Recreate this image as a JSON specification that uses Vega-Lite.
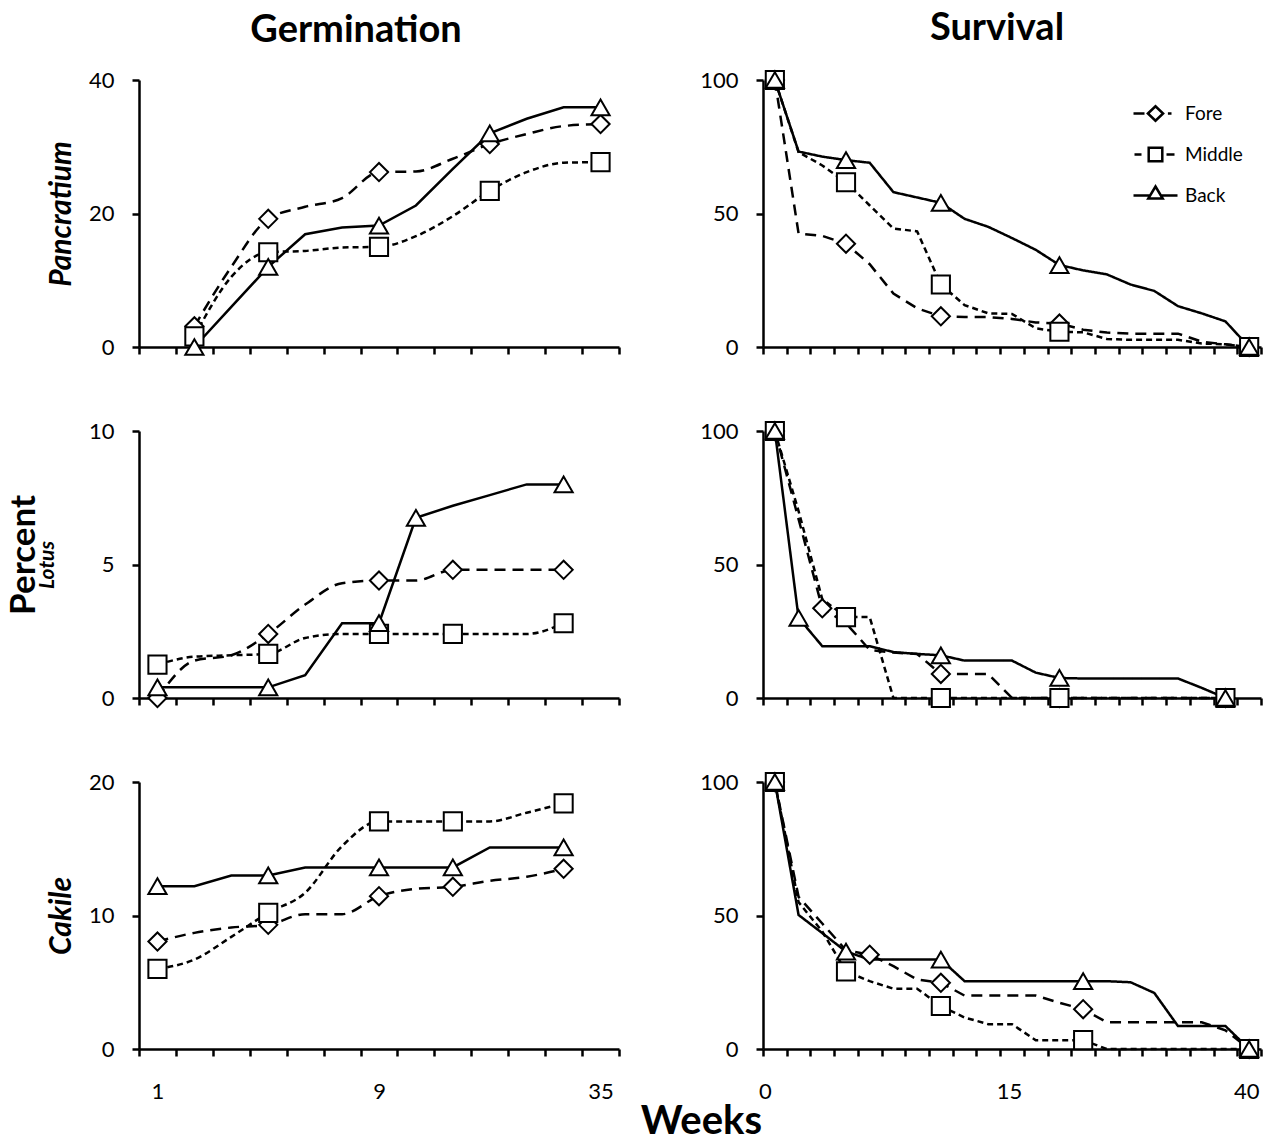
{
"$schema": "https://vega.github.io/schema/vega-lite/v6.json",
"padding": {"left": 7, "top": 9, "right": 0, "bottom": 0},
"config": {
  "view": {"stroke": null},
  "font": "Lato",
  "axis": {"grid": false, "domainColor": "black", "domainWidth": 2.5, "tickColor": "black", "tickWidth": 2.5, "tickSize": 7, "labelFont": "Lato", "labelFontSize": 22, "labelColor": "black", "labelPadding": 18, "titleColor": "black", "titleFont": "Lato", "labelOverlap": false, "labelFlush": false},
  "title": {"font": "Lato", "color": "black", "fontWeight": "bold"}
},
"title": {"text": "Percent", "orient": "left", "fontSize": 35, "fontWeight": "bold", "anchor": "middle", "offset": -6, "dx": 21},
"data": {"values": [
{"panel":"A","series":"Fore","x":1,"y":3.1,"marker":1},{"panel":"A","series":"Fore","x":2,"y":12,"marker":0},{"panel":"A","series":"Fore","x":3,"y":19.2,"marker":1},{"panel":"A","series":"Fore","x":4,"y":21,"marker":0},{"panel":"A","series":"Fore","x":5,"y":22.3,"marker":0},{"panel":"A","series":"Fore","x":6,"y":26.2,"marker":1},{"panel":"A","series":"Fore","x":7,"y":26.3,"marker":0},{"panel":"A","series":"Fore","x":8,"y":28.2,"marker":0},{"panel":"A","series":"Fore","x":9,"y":30.4,"marker":1},{"panel":"A","series":"Fore","x":10,"y":31.9,"marker":0},{"panel":"A","series":"Fore","x":11,"y":33.1,"marker":0},{"panel":"A","series":"Fore","x":12,"y":33.4,"marker":1},
{"panel":"A","series":"Middle","x":1,"y":1.6,"marker":1},{"panel":"A","series":"Middle","x":2,"y":10.5,"marker":0},{"panel":"A","series":"Middle","x":3,"y":14.2,"marker":1},{"panel":"A","series":"Middle","x":4,"y":14.4,"marker":0},{"panel":"A","series":"Middle","x":5,"y":14.9,"marker":0},{"panel":"A","series":"Middle","x":6,"y":15,"marker":1},{"panel":"A","series":"Middle","x":7,"y":16.6,"marker":0},{"panel":"A","series":"Middle","x":8,"y":19.6,"marker":0},{"panel":"A","series":"Middle","x":9,"y":23.4,"marker":1},{"panel":"A","series":"Middle","x":10,"y":26.2,"marker":0},{"panel":"A","series":"Middle","x":11,"y":27.6,"marker":0},{"panel":"A","series":"Middle","x":12,"y":27.7,"marker":1},
{"panel":"A","series":"Back","x":1,"y":0,"marker":1},{"panel":"A","series":"Back","x":2,"y":6,"marker":0},{"panel":"A","series":"Back","x":3,"y":12,"marker":1},{"panel":"A","series":"Back","x":4,"y":16.9,"marker":0},{"panel":"A","series":"Back","x":5,"y":17.9,"marker":0},{"panel":"A","series":"Back","x":6,"y":18.2,"marker":1},{"panel":"A","series":"Back","x":7,"y":21.2,"marker":0},{"panel":"A","series":"Back","x":8,"y":26.7,"marker":0},{"panel":"A","series":"Back","x":9,"y":32,"marker":1},{"panel":"A","series":"Back","x":10,"y":34.2,"marker":0},{"panel":"A","series":"Back","x":11,"y":35.9,"marker":0},{"panel":"A","series":"Back","x":12,"y":35.9,"marker":1},
{"panel":"B","series":"Fore","x":0,"y":100,"marker":1},{"panel":"B","series":"Fore","x":1,"y":42.5,"marker":0},{"panel":"B","series":"Fore","x":2,"y":41.6,"marker":0},{"panel":"B","series":"Fore","x":3,"y":38.7,"marker":1},{"panel":"B","series":"Fore","x":4,"y":31,"marker":0},{"panel":"B","series":"Fore","x":5,"y":20,"marker":0},{"panel":"B","series":"Fore","x":6,"y":14.5,"marker":0},{"panel":"B","series":"Fore","x":7,"y":11.5,"marker":1},{"panel":"B","series":"Fore","x":8,"y":11.2,"marker":0},{"panel":"B","series":"Fore","x":9,"y":11.2,"marker":0},{"panel":"B","series":"Fore","x":10,"y":10.5,"marker":0},{"panel":"B","series":"Fore","x":11,"y":9.2,"marker":0},{"panel":"B","series":"Fore","x":12,"y":8.8,"marker":1},{"panel":"B","series":"Fore","x":13,"y":6.5,"marker":0},{"panel":"B","series":"Fore","x":14,"y":5.4,"marker":0},{"panel":"B","series":"Fore","x":15,"y":5,"marker":0},{"panel":"B","series":"Fore","x":16,"y":5,"marker":0},{"panel":"B","series":"Fore","x":17,"y":5,"marker":0},{"panel":"B","series":"Fore","x":18,"y":2,"marker":0},{"panel":"B","series":"Fore","x":19,"y":1,"marker":0},{"panel":"B","series":"Fore","x":20,"y":0,"marker":1},
{"panel":"B","series":"Middle","x":0,"y":100,"marker":1},{"panel":"B","series":"Middle","x":1,"y":73,"marker":0},{"panel":"B","series":"Middle","x":2,"y":68,"marker":0},{"panel":"B","series":"Middle","x":3,"y":61.7,"marker":1},{"panel":"B","series":"Middle","x":4,"y":53,"marker":0},{"panel":"B","series":"Middle","x":5,"y":44.4,"marker":0},{"panel":"B","series":"Middle","x":6,"y":43.3,"marker":0},{"panel":"B","series":"Middle","x":7,"y":23.4,"marker":1},{"panel":"B","series":"Middle","x":8,"y":15.7,"marker":0},{"panel":"B","series":"Middle","x":9,"y":12.6,"marker":0},{"panel":"B","series":"Middle","x":10,"y":12.4,"marker":0},{"panel":"B","series":"Middle","x":11,"y":7,"marker":0},{"panel":"B","series":"Middle","x":12,"y":5.7,"marker":1},{"panel":"B","series":"Middle","x":13,"y":5.5,"marker":0},{"panel":"B","series":"Middle","x":14,"y":3,"marker":0},{"panel":"B","series":"Middle","x":15,"y":2.7,"marker":0},{"panel":"B","series":"Middle","x":16,"y":2.7,"marker":0},{"panel":"B","series":"Middle","x":17,"y":2.7,"marker":0},{"panel":"B","series":"Middle","x":18,"y":1.3,"marker":0},{"panel":"B","series":"Middle","x":19,"y":1,"marker":0},{"panel":"B","series":"Middle","x":20,"y":0,"marker":1},
{"panel":"B","series":"Back","x":0,"y":100,"marker":1},{"panel":"B","series":"Back","x":1,"y":73.2,"marker":0},{"panel":"B","series":"Back","x":2,"y":71.3,"marker":0},{"panel":"B","series":"Back","x":3,"y":70,"marker":1},{"panel":"B","series":"Back","x":4,"y":69,"marker":0},{"panel":"B","series":"Back","x":5,"y":58,"marker":0},{"panel":"B","series":"Back","x":6,"y":56,"marker":0},{"panel":"B","series":"Back","x":7,"y":54,"marker":1},{"panel":"B","series":"Back","x":8,"y":48,"marker":0},{"panel":"B","series":"Back","x":9,"y":45,"marker":0},{"panel":"B","series":"Back","x":10,"y":40.8,"marker":0},{"panel":"B","series":"Back","x":11,"y":36.4,"marker":0},{"panel":"B","series":"Back","x":12,"y":30.7,"marker":1},{"panel":"B","series":"Back","x":13,"y":28.7,"marker":0},{"panel":"B","series":"Back","x":14,"y":27.2,"marker":0},{"panel":"B","series":"Back","x":15,"y":23.4,"marker":0},{"panel":"B","series":"Back","x":16,"y":21,"marker":0},{"panel":"B","series":"Back","x":17,"y":15.3,"marker":0},{"panel":"B","series":"Back","x":18,"y":12.6,"marker":0},{"panel":"B","series":"Back","x":19,"y":9.6,"marker":0},{"panel":"B","series":"Back","x":20,"y":0,"marker":1},
{"panel":"C","series":"Fore","x":0,"y":0,"marker":1},{"panel":"C","series":"Fore","x":1,"y":1.4,"marker":0},{"panel":"C","series":"Fore","x":2,"y":1.6,"marker":0},{"panel":"C","series":"Fore","x":3,"y":2.4,"marker":1},{"panel":"C","series":"Fore","x":4,"y":3.5,"marker":0},{"panel":"C","series":"Fore","x":5,"y":4.3,"marker":0},{"panel":"C","series":"Fore","x":6,"y":4.4,"marker":1},{"panel":"C","series":"Fore","x":7,"y":4.4,"marker":0},{"panel":"C","series":"Fore","x":8,"y":4.8,"marker":1},{"panel":"C","series":"Fore","x":9,"y":4.8,"marker":0},{"panel":"C","series":"Fore","x":10,"y":4.8,"marker":0},{"panel":"C","series":"Fore","x":11,"y":4.8,"marker":1},
{"panel":"C","series":"Middle","x":0,"y":1.25,"marker":1},{"panel":"C","series":"Middle","x":1,"y":1.55,"marker":0},{"panel":"C","series":"Middle","x":2,"y":1.6,"marker":0},{"panel":"C","series":"Middle","x":3,"y":1.65,"marker":1},{"panel":"C","series":"Middle","x":4,"y":2.25,"marker":0},{"panel":"C","series":"Middle","x":5,"y":2.4,"marker":0},{"panel":"C","series":"Middle","x":6,"y":2.4,"marker":1},{"panel":"C","series":"Middle","x":7,"y":2.4,"marker":0},{"panel":"C","series":"Middle","x":8,"y":2.4,"marker":1},{"panel":"C","series":"Middle","x":9,"y":2.4,"marker":0},{"panel":"C","series":"Middle","x":10,"y":2.4,"marker":0},{"panel":"C","series":"Middle","x":11,"y":2.8,"marker":1},
{"panel":"C","series":"Back","x":0,"y":0.4,"marker":1},{"panel":"C","series":"Back","x":1,"y":0.4,"marker":0},{"panel":"C","series":"Back","x":2,"y":0.4,"marker":0},{"panel":"C","series":"Back","x":3,"y":0.4,"marker":1},{"panel":"C","series":"Back","x":4,"y":0.85,"marker":0},{"panel":"C","series":"Back","x":5,"y":2.8,"marker":0},{"panel":"C","series":"Back","x":6,"y":2.8,"marker":1},{"panel":"C","series":"Back","x":7,"y":6.75,"marker":1},{"panel":"C","series":"Back","x":8,"y":7.2,"marker":0},{"panel":"C","series":"Back","x":9,"y":7.6,"marker":0},{"panel":"C","series":"Back","x":10,"y":8,"marker":0},{"panel":"C","series":"Back","x":11,"y":8,"marker":1},
{"panel":"D","series":"Fore","x":0,"y":100,"marker":1},{"panel":"D","series":"Fore","x":1,"y":67,"marker":0},{"panel":"D","series":"Fore","x":2,"y":33.6,"marker":1},{"panel":"D","series":"Fore","x":3,"y":28,"marker":0},{"panel":"D","series":"Fore","x":4,"y":18,"marker":0},{"panel":"D","series":"Fore","x":5,"y":17,"marker":0},{"panel":"D","series":"Fore","x":6,"y":16.5,"marker":0},{"panel":"D","series":"Fore","x":7,"y":9,"marker":1},{"panel":"D","series":"Fore","x":8,"y":9,"marker":0},{"panel":"D","series":"Fore","x":9,"y":9,"marker":0},{"panel":"D","series":"Fore","x":10,"y":0,"marker":0},{"panel":"D","series":"Fore","x":11,"y":0,"marker":0},{"panel":"D","series":"Fore","x":12,"y":0,"marker":1},{"panel":"D","series":"Fore","x":13,"y":0,"marker":0},{"panel":"D","series":"Fore","x":14,"y":0,"marker":0},{"panel":"D","series":"Fore","x":15,"y":0,"marker":0},{"panel":"D","series":"Fore","x":16,"y":0,"marker":0},{"panel":"D","series":"Fore","x":17,"y":0,"marker":0},{"panel":"D","series":"Fore","x":18,"y":0,"marker":0},{"panel":"D","series":"Fore","x":19,"y":0,"marker":1},
{"panel":"D","series":"Middle","x":0,"y":100,"marker":1},{"panel":"D","series":"Middle","x":1,"y":70,"marker":0},{"panel":"D","series":"Middle","x":2,"y":37,"marker":0},{"panel":"D","series":"Middle","x":3,"y":30.3,"marker":1},{"panel":"D","series":"Middle","x":4,"y":30.3,"marker":0},{"panel":"D","series":"Middle","x":5,"y":0,"marker":0},{"panel":"D","series":"Middle","x":6,"y":0,"marker":0},{"panel":"D","series":"Middle","x":7,"y":0,"marker":1},{"panel":"D","series":"Middle","x":8,"y":0,"marker":0},{"panel":"D","series":"Middle","x":9,"y":0,"marker":0},{"panel":"D","series":"Middle","x":10,"y":0,"marker":0},{"panel":"D","series":"Middle","x":11,"y":0,"marker":0},{"panel":"D","series":"Middle","x":12,"y":0,"marker":1},{"panel":"D","series":"Middle","x":13,"y":0,"marker":0},{"panel":"D","series":"Middle","x":14,"y":0,"marker":0},{"panel":"D","series":"Middle","x":15,"y":0,"marker":0},{"panel":"D","series":"Middle","x":16,"y":0,"marker":0},{"panel":"D","series":"Middle","x":17,"y":0,"marker":0},{"panel":"D","series":"Middle","x":18,"y":0,"marker":0},{"panel":"D","series":"Middle","x":19,"y":0,"marker":1},
{"panel":"D","series":"Back","x":0,"y":100,"marker":1},{"panel":"D","series":"Back","x":1,"y":30,"marker":1},{"panel":"D","series":"Back","x":2,"y":19.4,"marker":0},{"panel":"D","series":"Back","x":3,"y":19.4,"marker":0},{"panel":"D","series":"Back","x":4,"y":19.4,"marker":0},{"panel":"D","series":"Back","x":5,"y":17.2,"marker":0},{"panel":"D","series":"Back","x":6,"y":16.5,"marker":0},{"panel":"D","series":"Back","x":7,"y":16,"marker":1},{"panel":"D","series":"Back","x":8,"y":14,"marker":0},{"panel":"D","series":"Back","x":9,"y":14,"marker":0},{"panel":"D","series":"Back","x":10,"y":14,"marker":0},{"panel":"D","series":"Back","x":11,"y":9.5,"marker":0},{"panel":"D","series":"Back","x":12,"y":7.5,"marker":1},{"panel":"D","series":"Back","x":13,"y":7.3,"marker":0},{"panel":"D","series":"Back","x":14,"y":7.3,"marker":0},{"panel":"D","series":"Back","x":15,"y":7.3,"marker":0},{"panel":"D","series":"Back","x":16,"y":7.3,"marker":0},{"panel":"D","series":"Back","x":17,"y":7.3,"marker":0},{"panel":"D","series":"Back","x":18,"y":3.8,"marker":0},{"panel":"D","series":"Back","x":19,"y":0,"marker":1},
{"panel":"E","series":"Fore","x":0,"y":8.05,"marker":1},{"panel":"E","series":"Fore","x":1,"y":8.7,"marker":0},{"panel":"E","series":"Fore","x":2,"y":9.1,"marker":0},{"panel":"E","series":"Fore","x":3,"y":9.3,"marker":1},{"panel":"E","series":"Fore","x":4,"y":10.1,"marker":0},{"panel":"E","series":"Fore","x":5,"y":10.1,"marker":0},{"panel":"E","series":"Fore","x":6,"y":11.45,"marker":1},{"panel":"E","series":"Fore","x":7,"y":12,"marker":0},{"panel":"E","series":"Fore","x":8,"y":12.15,"marker":1},{"panel":"E","series":"Fore","x":9,"y":12.6,"marker":0},{"panel":"E","series":"Fore","x":10,"y":12.9,"marker":0},{"panel":"E","series":"Fore","x":11,"y":13.5,"marker":1},
{"panel":"E","series":"Middle","x":0,"y":6,"marker":1},{"panel":"E","series":"Middle","x":1,"y":6.7,"marker":0},{"panel":"E","series":"Middle","x":2,"y":8.4,"marker":0},{"panel":"E","series":"Middle","x":3,"y":10.2,"marker":1},{"panel":"E","series":"Middle","x":4,"y":11.7,"marker":0},{"panel":"E","series":"Middle","x":5,"y":15.2,"marker":0},{"panel":"E","series":"Middle","x":6,"y":17.05,"marker":1},{"panel":"E","series":"Middle","x":7,"y":17.05,"marker":0},{"panel":"E","series":"Middle","x":8,"y":17.05,"marker":1},{"panel":"E","series":"Middle","x":9,"y":17.05,"marker":0},{"panel":"E","series":"Middle","x":10,"y":17.7,"marker":0},{"panel":"E","series":"Middle","x":11,"y":18.4,"marker":1},
{"panel":"E","series":"Back","x":0,"y":12.2,"marker":1},{"panel":"E","series":"Back","x":1,"y":12.2,"marker":0},{"panel":"E","series":"Back","x":2,"y":13,"marker":0},{"panel":"E","series":"Back","x":3,"y":13,"marker":1},{"panel":"E","series":"Back","x":4,"y":13.6,"marker":0},{"panel":"E","series":"Back","x":5,"y":13.6,"marker":0},{"panel":"E","series":"Back","x":6,"y":13.6,"marker":1},{"panel":"E","series":"Back","x":7,"y":13.6,"marker":0},{"panel":"E","series":"Back","x":8,"y":13.6,"marker":1},{"panel":"E","series":"Back","x":9,"y":15.1,"marker":0},{"panel":"E","series":"Back","x":10,"y":15.1,"marker":0},{"panel":"E","series":"Back","x":11,"y":15.1,"marker":1},
{"panel":"F","series":"Fore","x":0,"y":100,"marker":1},{"panel":"F","series":"Fore","x":1,"y":57,"marker":0},{"panel":"F","series":"Fore","x":2,"y":47,"marker":0},{"panel":"F","series":"Fore","x":3,"y":37,"marker":0},{"panel":"F","series":"Fore","x":4,"y":35.3,"marker":1},{"panel":"F","series":"Fore","x":5,"y":31,"marker":0},{"panel":"F","series":"Fore","x":6,"y":26,"marker":0},{"panel":"F","series":"Fore","x":7,"y":24.8,"marker":1},{"panel":"F","series":"Fore","x":8,"y":20,"marker":0},{"panel":"F","series":"Fore","x":9,"y":20,"marker":0},{"panel":"F","series":"Fore","x":10,"y":20,"marker":0},{"panel":"F","series":"Fore","x":11,"y":20,"marker":0},{"panel":"F","series":"Fore","x":12,"y":17.3,"marker":0},{"panel":"F","series":"Fore","x":13,"y":14.9,"marker":1},{"panel":"F","series":"Fore","x":14,"y":10,"marker":0},{"panel":"F","series":"Fore","x":15,"y":10,"marker":0},{"panel":"F","series":"Fore","x":16,"y":10,"marker":0},{"panel":"F","series":"Fore","x":17,"y":10,"marker":0},{"panel":"F","series":"Fore","x":18,"y":10,"marker":0},{"panel":"F","series":"Fore","x":19,"y":7,"marker":0},{"panel":"F","series":"Fore","x":20,"y":0,"marker":1},
{"panel":"F","series":"Middle","x":0,"y":100,"marker":1},{"panel":"F","series":"Middle","x":1,"y":55,"marker":0},{"panel":"F","series":"Middle","x":2,"y":44,"marker":0},{"panel":"F","series":"Middle","x":3,"y":29.1,"marker":1},{"panel":"F","series":"Middle","x":4,"y":25.4,"marker":0},{"panel":"F","series":"Middle","x":5,"y":22.6,"marker":0},{"panel":"F","series":"Middle","x":6,"y":22.6,"marker":0},{"panel":"F","series":"Middle","x":7,"y":16.1,"marker":1},{"panel":"F","series":"Middle","x":8,"y":11.8,"marker":0},{"panel":"F","series":"Middle","x":9,"y":9.3,"marker":0},{"panel":"F","series":"Middle","x":10,"y":9.3,"marker":0},{"panel":"F","series":"Middle","x":11,"y":3.3,"marker":0},{"panel":"F","series":"Middle","x":12,"y":3.3,"marker":0},{"panel":"F","series":"Middle","x":13,"y":3.3,"marker":1},{"panel":"F","series":"Middle","x":14,"y":0,"marker":0},{"panel":"F","series":"Middle","x":15,"y":0,"marker":0},{"panel":"F","series":"Middle","x":16,"y":0,"marker":0},{"panel":"F","series":"Middle","x":17,"y":0,"marker":0},{"panel":"F","series":"Middle","x":18,"y":0,"marker":0},{"panel":"F","series":"Middle","x":19,"y":0,"marker":0},{"panel":"F","series":"Middle","x":20,"y":0,"marker":1},
{"panel":"F","series":"Back","x":0,"y":100,"marker":1},{"panel":"F","series":"Back","x":1,"y":50.2,"marker":0},{"panel":"F","series":"Back","x":2,"y":43.4,"marker":0},{"panel":"F","series":"Back","x":3,"y":36.5,"marker":1},{"panel":"F","series":"Back","x":4,"y":33.5,"marker":0},{"panel":"F","series":"Back","x":5,"y":33.5,"marker":0},{"panel":"F","series":"Back","x":6,"y":33.5,"marker":0},{"panel":"F","series":"Back","x":7,"y":33.5,"marker":1},{"panel":"F","series":"Back","x":8,"y":25.4,"marker":0},{"panel":"F","series":"Back","x":9,"y":25.4,"marker":0},{"panel":"F","series":"Back","x":10,"y":25.4,"marker":0},{"panel":"F","series":"Back","x":11,"y":25.4,"marker":0},{"panel":"F","series":"Back","x":12,"y":25.4,"marker":0},{"panel":"F","series":"Back","x":13,"y":25.4,"marker":1},{"panel":"F","series":"Back","x":14,"y":25.4,"marker":0},{"panel":"F","series":"Back","x":15,"y":25,"marker":0},{"panel":"F","series":"Back","x":16,"y":21,"marker":0},{"panel":"F","series":"Back","x":17,"y":8.6,"marker":0},{"panel":"F","series":"Back","x":18,"y":8.6,"marker":0},{"panel":"F","series":"Back","x":19,"y":8.6,"marker":0},{"panel":"F","series":"Back","x":20,"y":0,"marker":1}
]},
"vconcat": [{
  "title": {"text": "Weeks", "orient": "bottom", "fontSize": 40, "fontWeight": "bold", "anchor": "middle", "offset": 0, "dx": 52},
  "columns": 2,
  "bounds": "flush",
  "align": "each",
  "spacing": {"row": 84, "column": 144},
  "resolve": {"scale": {"shape": "independent", "strokeDash": "independent"}, "legend": {"shape": "independent", "strokeDash": "independent"}},
  "concat": [
    {
      "width": 480, "height": 267,
      "transform": [{"filter": "datum.panel === 'A'"}],
      "title": {"text": "Germination", "fontSize": 38, "fontWeight": "bold", "anchor": "middle", "frame": "group", "dx": -23, "offset": 19},
      "encoding": {
        "x": {"field": "x", "type": "quantitative", "scale": {"domain": [-0.5, 12.5], "nice": false, "zero": false}, "axis": {"values": [-0.5,0.5,1.5,2.5,3.5,4.5,5.5,6.5,7.5,8.5,9.5,10.5,11.5,12.5], "labels": false, "title": null}},
        "y": {"field": "y", "type": "quantitative", "scale": {"domain": [0, 40], "nice": false}, "axis": {"values": [0, 20, 40], "title": "Pancratium", "titleFontSize": 30, "titleFontStyle": "italic", "titleFontWeight": "bold", "titlePadding": 12}}
      },
      "layer": [
        {"transform": [{"filter": "datum.series !== 'Back'"}], "mark": {"type": "line", "interpolate": "monotone", "color": "black", "strokeWidth": 2.5}, "encoding": {"strokeDash": {"field": "series", "type": "nominal", "scale": {"domain": ["Fore", "Middle", "Back"], "range": [[11, 7], [6, 4], [1, 0]]}, "legend": null}}},
        {"transform": [{"filter": "datum.series === 'Back'"}], "mark": {"type": "line", "color": "black", "strokeWidth": 2.5}, "encoding": {"detail": {"field": "series", "type": "nominal"}}},
        {"transform": [{"filter": "datum.marker === 1"}], "mark": {"type": "point", "filled": true, "fill": "white", "stroke": "black", "strokeWidth": 2, "opacity": 1, "size": 330}, "encoding": {"shape": {"field": "series", "type": "nominal", "scale": {"domain": ["Fore", "Middle", "Back"], "range": ["diamond", "square", "triangle-up"]}, "legend": null}}}
      ]
    },
    {
      "width": 498, "height": 267,
      "transform": [{"filter": "datum.panel === 'B'"}],
      "title": {"text": "Survival", "fontSize": 38, "fontWeight": "bold", "anchor": "middle", "frame": "group", "dx": -15, "offset": 19},
      "encoding": {
        "x": {"field": "x", "type": "quantitative", "scale": {"domain": [-0.5, 20.5], "nice": false, "zero": false}, "axis": {"values": [-0.5,0.5,1.5,2.5,3.5,4.5,5.5,6.5,7.5,8.5,9.5,10.5,11.5,12.5,13.5,14.5,15.5,16.5,17.5,18.5,19.5,20.5], "labels": false, "title": null}},
        "y": {"field": "y", "type": "quantitative", "scale": {"domain": [0, 100], "nice": false}, "axis": {"values": [0, 50, 100], "title": null}}
      },
      "resolve": {"scale": {"shape": "independent"}, "legend": {"shape": "independent"}},
      "layer": [
        {"mark": {"type": "line", "color": "black", "strokeWidth": 2.5}, "encoding": {"strokeDash": {"field": "series", "type": "nominal", "scale": {"domain": ["Fore", "Middle", "Back"], "range": [[11, 7], [6, 4], [1, 0]]}, "legend": null}}},
        {"transform": [{"filter": "datum.marker === 1"}], "mark": {"type": "point", "filled": true, "fill": "white", "stroke": "black", "strokeWidth": 2, "opacity": 1, "size": 330}, "encoding": {"shape": {"field": "series", "type": "nominal", "scale": {"domain": ["Fore", "Middle", "Back"], "range": ["diamond", "square", "triangle-up"]}, "legend": null}}},
        {"transform": [{"filter": "datum.x < -1"}], "mark": {"type": "point", "filled": true, "fill": "white", "stroke": "black", "strokeWidth": 2.5, "opacity": 1}, "encoding": {"shape": {"field": "series", "type": "nominal", "scale": {"domain": ["Fore", "Middle", "Back"], "range": ["M-1.1,0H-0.55M-0.38,0L0,-0.36L0.38,0L0,0.36ZM0.62,0H0.8", "M-1.05,0H-0.7M-0.34,-0.34H0.34V0.34H-0.34ZM0.55,0H0.95", "M-1.1,0H-0.27M0.27,0H1.1M0,-0.45L0.36,0.15H-0.36Z"]}, "legend": {"orient": "none", "legendX": 371, "legendY": 12, "title": null, "labelFont": "Lato", "labelFontSize": 19, "labelColor": "black", "symbolSize": 1600, "symbolStrokeWidth": 2.5, "symbolOpacity": 1, "labelOffset": 8, "rowPadding": 7}}}}
      ]
    },
    {
      "width": 480, "height": 267,
      "transform": [{"filter": "datum.panel === 'C'"}],
      "encoding": {
        "x": {"field": "x", "type": "quantitative", "scale": {"domain": [-0.5, 12.5], "nice": false, "zero": false}, "axis": {"values": [-0.5,0.5,1.5,2.5,3.5,4.5,5.5,6.5,7.5,8.5,9.5,10.5,11.5,12.5], "labels": false, "title": null}},
        "y": {"field": "y", "type": "quantitative", "scale": {"domain": [0, 10], "nice": false}, "axis": {"values": [0, 5, 10], "title": "Lotus", "titleFontSize": 21, "titleFontStyle": "italic", "titleFontWeight": "bold", "titlePadding": 31}}
      },
      "layer": [
        {"transform": [{"filter": "datum.series !== 'Back'"}], "mark": {"type": "line", "interpolate": "monotone", "color": "black", "strokeWidth": 2.5}, "encoding": {"strokeDash": {"field": "series", "type": "nominal", "scale": {"domain": ["Fore", "Middle", "Back"], "range": [[11, 7], [6, 4], [1, 0]]}, "legend": null}}},
        {"transform": [{"filter": "datum.series === 'Back'"}], "mark": {"type": "line", "color": "black", "strokeWidth": 2.5}, "encoding": {"detail": {"field": "series", "type": "nominal"}}},
        {"transform": [{"filter": "datum.marker === 1"}], "mark": {"type": "point", "filled": true, "fill": "white", "stroke": "black", "strokeWidth": 2, "opacity": 1, "size": 330}, "encoding": {"shape": {"field": "series", "type": "nominal", "scale": {"domain": ["Fore", "Middle", "Back"], "range": ["diamond", "square", "triangle-up"]}, "legend": null}}}
      ]
    },
    {
      "width": 498, "height": 267,
      "transform": [{"filter": "datum.panel === 'D'"}],
      "encoding": {
        "x": {"field": "x", "type": "quantitative", "scale": {"domain": [-0.5, 20.5], "nice": false, "zero": false}, "axis": {"values": [-0.5,0.5,1.5,2.5,3.5,4.5,5.5,6.5,7.5,8.5,9.5,10.5,11.5,12.5,13.5,14.5,15.5,16.5,17.5,18.5,19.5,20.5], "labels": false, "title": null}},
        "y": {"field": "y", "type": "quantitative", "scale": {"domain": [0, 100], "nice": false}, "axis": {"values": [0, 50, 100], "title": null}}
      },
      "layer": [
        {"mark": {"type": "line", "color": "black", "strokeWidth": 2.5}, "encoding": {"strokeDash": {"field": "series", "type": "nominal", "scale": {"domain": ["Fore", "Middle", "Back"], "range": [[11, 7], [6, 4], [1, 0]]}, "legend": null}}},
        {"transform": [{"filter": "datum.marker === 1"}], "mark": {"type": "point", "filled": true, "fill": "white", "stroke": "black", "strokeWidth": 2, "opacity": 1, "size": 330}, "encoding": {"shape": {"field": "series", "type": "nominal", "scale": {"domain": ["Fore", "Middle", "Back"], "range": ["diamond", "square", "triangle-up"]}, "legend": null}}}
      ]
    },
    {
      "width": 480, "height": 267,
      "transform": [{"filter": "datum.panel === 'E'"}],
      "encoding": {
        "x": {"field": "x", "type": "quantitative", "scale": {"domain": [-0.5, 12.5], "nice": false, "zero": false}, "axis": {"values": [-0.5,0,0.5,1,1.5,2,2.5,3,3.5,4,4.5,5,5.5,6,6.5,7,7.5,8,8.5,9,9.5,10,10.5,11,11.5,12,12.5], "labelExpr": "datum.value === 0 ? '1' : datum.value === 6 ? '9' : datum.value === 12 ? '35' : ''", "tickOpacity": {"condition": {"test": "datum.value % 1 === 0", "value": 0}, "value": 1}, "labelPadding": 25, "title": null}},
        "y": {"field": "y", "type": "quantitative", "scale": {"domain": [0, 20], "nice": false}, "axis": {"values": [0, 10, 20], "title": "Cakile", "titleFontSize": 30, "titleFontStyle": "italic", "titleFontWeight": "bold", "titlePadding": 12}}
      },
      "layer": [
        {"transform": [{"filter": "datum.series !== 'Back'"}], "mark": {"type": "line", "interpolate": "monotone", "color": "black", "strokeWidth": 2.5}, "encoding": {"strokeDash": {"field": "series", "type": "nominal", "scale": {"domain": ["Fore", "Middle", "Back"], "range": [[11, 7], [6, 4], [1, 0]]}, "legend": null}}},
        {"transform": [{"filter": "datum.series === 'Back'"}], "mark": {"type": "line", "color": "black", "strokeWidth": 2.5}, "encoding": {"detail": {"field": "series", "type": "nominal"}}},
        {"transform": [{"filter": "datum.marker === 1"}], "mark": {"type": "point", "filled": true, "fill": "white", "stroke": "black", "strokeWidth": 2, "opacity": 1, "size": 330}, "encoding": {"shape": {"field": "series", "type": "nominal", "scale": {"domain": ["Fore", "Middle", "Back"], "range": ["diamond", "square", "triangle-up"]}, "legend": null}}}
      ]
    },
    {
      "width": 498, "height": 267,
      "transform": [{"filter": "datum.panel === 'F'"}],
      "encoding": {
        "x": {"field": "x", "type": "quantitative", "scale": {"domain": [-0.5, 20.5], "nice": false, "zero": false}, "axis": {"values": [-0.5,0,0.5,1,1.5,2,2.5,3,3.5,4,4.5,5,5.5,6,6.5,7,7.5,8,8.5,9,9.5,10,10.5,11,11.5,12,12.5,13,13.5,14,14.5,15,15.5,16,16.5,17,17.5,18,18.5,19,19.5,20,20.5], "labelExpr": "datum.value === 0 ? '0' : datum.value === 10 ? '15' : datum.value === 20 ? '40' : ''", "tickOpacity": {"condition": {"test": "datum.value % 1 === 0", "value": 0}, "value": 1}, "labelOffset": {"condition": {"test": "datum.value === 0", "value": -10}, "value": -3}, "labelPadding": 25, "title": null}},
        "y": {"field": "y", "type": "quantitative", "scale": {"domain": [0, 100], "nice": false}, "axis": {"values": [0, 50, 100], "title": null}}
      },
      "layer": [
        {"mark": {"type": "line", "color": "black", "strokeWidth": 2.5}, "encoding": {"strokeDash": {"field": "series", "type": "nominal", "scale": {"domain": ["Fore", "Middle", "Back"], "range": [[11, 7], [6, 4], [1, 0]]}, "legend": null}}},
        {"transform": [{"filter": "datum.marker === 1"}], "mark": {"type": "point", "filled": true, "fill": "white", "stroke": "black", "strokeWidth": 2, "opacity": 1, "size": 330}, "encoding": {"shape": {"field": "series", "type": "nominal", "scale": {"domain": ["Fore", "Middle", "Back"], "range": ["diamond", "square", "triangle-up"]}, "legend": null}}}
      ]
    }
  ]
}]
}
